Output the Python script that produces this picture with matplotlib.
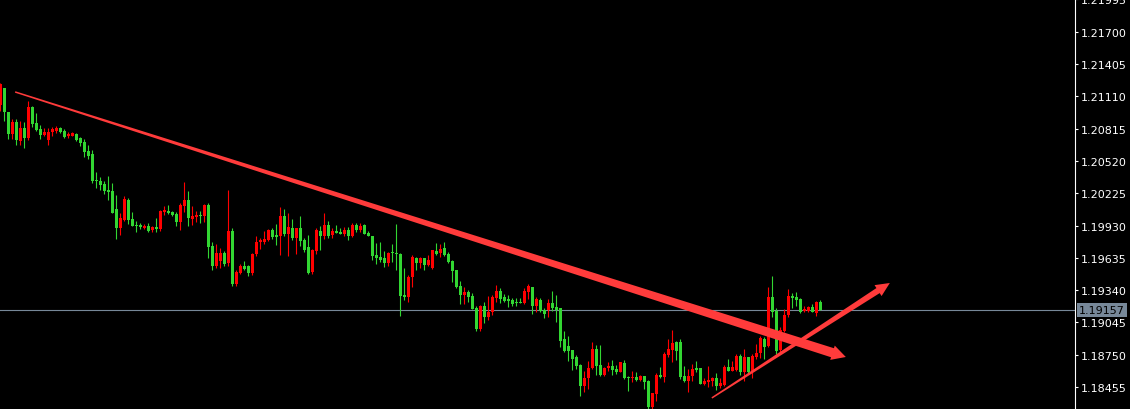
import numpy as np
import matplotlib
matplotlib.use("Agg")
import matplotlib.pyplot as plt
from matplotlib.patches import Polygon
from matplotlib.transforms import IdentityTransform

# ── OHLC (oldest bar first) ──────────────────────────────────────────────
opens = [
    1.21031, 1.21186, 1.20964, 1.20766, 1.20873, 1.20705, 1.20821, 1.20730, 1.21015, 1.20866,
    1.20812, 1.20757, 1.20714, 1.20782, 1.20796, 1.20821, 1.20796, 1.20745, 1.20751, 1.20766,
    1.20727, 1.20693, 1.20614, 1.20583, 1.20349, 1.20334, 1.20309, 1.20255, 1.20246, 1.20081,
    1.19908, 1.19983, 1.20163, 1.19990, 1.19938, 1.19935, 1.19908, 1.19923, 1.19889, 1.19917,
    1.19898, 1.20051, 1.20063, 1.20056, 1.20035, 1.19965, 1.20111, 1.20163, 1.19990, 1.20005,
    1.20026, 1.20020, 1.20118, 1.19740, 1.19558, 1.19609, 1.19679, 1.19588, 1.19883, 1.19396,
    1.19497, 1.19563, 1.19558, 1.19497, 1.19670, 1.19777, 1.19777, 1.19798, 1.19892, 1.19841,
    1.19832, 1.20014, 1.19853, 1.19905, 1.19814, 1.19905, 1.19798, 1.19731, 1.19506, 1.19700,
    1.19883, 1.19832, 1.19935, 1.19844, 1.19880, 1.19874, 1.19853, 1.19889, 1.19837, 1.19935,
    1.19889, 1.19935, 1.19862, 1.19832, 1.19661, 1.19640, 1.19631, 1.19588, 1.19691, 1.19679,
    1.19670, 1.19296, 1.19275, 1.19457, 1.19634, 1.19588, 1.19634, 1.19570, 1.19542, 1.19700,
    1.19677, 1.19725, 1.19670, 1.19609, 1.19524, 1.19381, 1.19296, 1.19320, 1.19289, 1.19177,
    1.18985, 1.19198, 1.19092, 1.19138, 1.19266, 1.19335, 1.19275, 1.19259, 1.19250, 1.19229,
    1.19229, 1.19223, 1.19320, 1.19371, 1.19192, 1.19250, 1.19159, 1.19159, 1.19223, 1.19183,
    1.19174, 1.18894, 1.18833, 1.18796, 1.18732, 1.18656, 1.18467, 1.18535, 1.18626, 1.18802,
    1.18656, 1.18565, 1.18626, 1.18644, 1.18620, 1.18595, 1.18675, 1.18550, 1.18535, 1.18544,
    1.18522, 1.18553, 1.18513, 1.18270, 1.18392, 1.18568, 1.18550, 1.18748, 1.18796, 1.18869,
    1.18867, 1.18559, 1.18513, 1.18559, 1.18626, 1.18626, 1.18483, 1.18499, 1.18513, 1.18538,
    1.18462, 1.18474, 1.18641, 1.18604, 1.18613, 1.18739, 1.18595, 1.18727, 1.18590, 1.18727,
    1.18766, 1.18894, 1.18833, 1.19280, 1.19152, 1.18793, 1.18970, 1.19113, 1.19289, 1.19280,
    1.19259, 1.19152, 1.19152, 1.19183, 1.19131, 1.19229,
]
highs = [
    1.21232, 1.21186, 1.20964, 1.20903, 1.20903, 1.20885, 1.20876, 1.21067, 1.21025, 1.20958,
    1.20848, 1.20821, 1.20818, 1.20833, 1.20842, 1.20833, 1.20812, 1.20782, 1.20787, 1.20778,
    1.20736, 1.20718, 1.20666, 1.20620, 1.20416, 1.20373, 1.20337, 1.20383, 1.20319, 1.20209,
    1.20045, 1.20197, 1.20179, 1.20051, 1.19974, 1.19953, 1.19944, 1.19953, 1.19929, 1.19999,
    1.20075, 1.20106, 1.20118, 1.20066, 1.20056, 1.20139, 1.20325, 1.20246, 1.20106, 1.20066,
    1.20066, 1.20127, 1.20133, 1.19777, 1.19761, 1.19725, 1.19700, 1.20255, 1.19908, 1.19527,
    1.19579, 1.19606, 1.19570, 1.19682, 1.19832, 1.19814, 1.19880, 1.19898, 1.19905, 1.19944,
    1.20097, 1.20081, 1.20045, 1.19990, 1.19905, 1.20014, 1.19816, 1.19844, 1.19716, 1.19908,
    1.19923, 1.20045, 1.19969, 1.19908, 1.19935, 1.19905, 1.19919, 1.19914, 1.19953, 1.19953,
    1.19951, 1.19944, 1.19877, 1.19832, 1.19771, 1.19777, 1.19695, 1.19691, 1.19761, 1.19944,
    1.19677, 1.19542, 1.19481, 1.19661, 1.19645, 1.19645, 1.19634, 1.19661, 1.19707, 1.19771,
    1.19761, 1.19777, 1.19686, 1.19618, 1.19524, 1.19426, 1.19366, 1.19344, 1.19314, 1.19198,
    1.19204, 1.19234, 1.19289, 1.19296, 1.19387, 1.19357, 1.19305, 1.19296, 1.19266, 1.19266,
    1.19266, 1.19357, 1.19396, 1.19371, 1.19275, 1.19266, 1.19174, 1.19259, 1.19329, 1.19296,
    1.19174, 1.18970, 1.18918, 1.18796, 1.18748, 1.18665, 1.18599, 1.18690, 1.18864, 1.18839,
    1.18839, 1.18641, 1.18681, 1.18705, 1.18656, 1.18686, 1.18702, 1.18559, 1.18604, 1.18590,
    1.18568, 1.18559, 1.18522, 1.18401, 1.18581, 1.18641, 1.18778, 1.18894, 1.18976, 1.18878,
    1.18894, 1.18650, 1.18620, 1.18665, 1.18696, 1.18626, 1.18538, 1.18650, 1.18544, 1.18581,
    1.18535, 1.18656, 1.18711, 1.18696, 1.18757, 1.18757, 1.18802, 1.18732, 1.18757, 1.18848,
    1.18918, 1.18909, 1.19366, 1.19472, 1.19174, 1.19001, 1.19168, 1.19350, 1.19311, 1.19320,
    1.19266, 1.19198, 1.19198, 1.19213, 1.19244, 1.19250,
]
lows = [
    1.20976, 1.20888, 1.20720, 1.20720, 1.20668, 1.20668, 1.20638, 1.20711, 1.20827, 1.20791,
    1.20720, 1.20745, 1.20668, 1.20751, 1.20775, 1.20772, 1.20727, 1.20730, 1.20745, 1.20699,
    1.20659, 1.20559, 1.20538, 1.20319, 1.20273, 1.20255, 1.20218, 1.20166, 1.20040, 1.19807,
    1.19846, 1.19969, 1.19944, 1.19925, 1.19874, 1.19898, 1.19898, 1.19874, 1.19874, 1.19874,
    1.19883, 1.20026, 1.20035, 1.20020, 1.19923, 1.19889, 1.20051, 1.19929, 1.19935, 1.19960,
    1.19951, 1.19960, 1.19634, 1.19527, 1.19540, 1.19542, 1.19563, 1.19563, 1.19375, 1.19381,
    1.19487, 1.19527, 1.19472, 1.19478, 1.19649, 1.19716, 1.19761, 1.19789, 1.19807, 1.19755,
    1.19664, 1.19837, 1.19649, 1.19798, 1.19670, 1.19746, 1.19686, 1.19490, 1.19487, 1.19670,
    1.19707, 1.19807, 1.19816, 1.19816, 1.19862, 1.19853, 1.19837, 1.19801, 1.19823, 1.19868,
    1.19868, 1.19853, 1.19832, 1.19615, 1.19579, 1.19594, 1.19549, 1.19563, 1.19600, 1.19524,
    1.19107, 1.19253, 1.19229, 1.19366, 1.19527, 1.19540, 1.19527, 1.19558, 1.19533, 1.19661,
    1.19640, 1.19655, 1.19588, 1.19412, 1.19360, 1.19213, 1.19213, 1.19229, 1.19168, 1.18970,
    1.18970, 1.19037, 1.19067, 1.19113, 1.19229, 1.19223, 1.19229, 1.19189, 1.19198, 1.19198,
    1.19220, 1.19213, 1.19259, 1.19122, 1.19143, 1.19138, 1.19083, 1.19097, 1.19152, 1.19046,
    1.18824, 1.18778, 1.18696, 1.18613, 1.18620, 1.18376, 1.18407, 1.18437, 1.18620, 1.18565,
    1.18559, 1.18559, 1.18604, 1.18565, 1.18574, 1.18590, 1.18528, 1.18422, 1.18505, 1.18513,
    1.18513, 1.18437, 1.18240, 1.18240, 1.18330, 1.18535, 1.18505, 1.18727, 1.18686, 1.18702,
    1.18528, 1.18505, 1.18413, 1.18513, 1.18595, 1.18483, 1.18474, 1.18458, 1.18467, 1.18431,
    1.18444, 1.18467, 1.18599, 1.18599, 1.18604, 1.18568, 1.18513, 1.18574, 1.18535, 1.18711,
    1.18720, 1.18711, 1.18818, 1.19092, 1.18757, 1.18772, 1.18955, 1.19092, 1.19174, 1.19198,
    1.19131, 1.19138, 1.19138, 1.19138, 1.19107, 1.19157,
]
closes = [
    1.21223, 1.20964, 1.20766, 1.20878, 1.20711, 1.20821, 1.20730, 1.21015, 1.20857, 1.20803,
    1.20757, 1.20782, 1.20787, 1.20812, 1.20821, 1.20782, 1.20741, 1.20766, 1.20772, 1.20711,
    1.20687, 1.20604, 1.20562, 1.20340, 1.20340, 1.20300, 1.20248, 1.20234, 1.20045, 1.19908,
    1.19996, 1.20172, 1.19983, 1.19929, 1.19929, 1.19917, 1.19929, 1.19883, 1.19917, 1.19898,
    1.20063, 1.20069, 1.20045, 1.20026, 1.19965, 1.20118, 1.20163, 1.19996, 1.20020, 1.20029,
    1.20017, 1.20118, 1.19737, 1.19563, 1.19679, 1.19679, 1.19579, 1.19883, 1.19396, 1.19503,
    1.19563, 1.19533, 1.19497, 1.19670, 1.19782, 1.19798, 1.19807, 1.19889, 1.19828, 1.19828,
    1.20014, 1.19853, 1.19914, 1.19816, 1.19905, 1.19792, 1.19709, 1.19497, 1.19707, 1.19889,
    1.19832, 1.19935, 1.19832, 1.19883, 1.19862, 1.19853, 1.19889, 1.19837, 1.19935, 1.19889,
    1.19929, 1.19853, 1.19832, 1.19655, 1.19634, 1.19618, 1.19588, 1.19679, 1.19677, 1.19670,
    1.19289, 1.19275, 1.19463, 1.19640, 1.19585, 1.19634, 1.19570, 1.19615, 1.19707, 1.19670,
    1.19716, 1.19664, 1.19594, 1.19512, 1.19371, 1.19298, 1.19320, 1.19275, 1.19168, 1.18985,
    1.19198, 1.19092, 1.19138, 1.19275, 1.19335, 1.19259, 1.19244, 1.19244, 1.19213, 1.19220,
    1.19220, 1.19335, 1.19375, 1.19198, 1.19259, 1.19152, 1.19122, 1.19223, 1.19174, 1.19161,
    1.18878, 1.18787, 1.18787, 1.18711, 1.18644, 1.18467, 1.18538, 1.18626, 1.18802, 1.18650,
    1.18565, 1.18629, 1.18644, 1.18613, 1.18595, 1.18681, 1.18538, 1.18535, 1.18550, 1.18522,
    1.18559, 1.18505, 1.18270, 1.18398, 1.18565, 1.18544, 1.18757, 1.18802, 1.18857, 1.18787,
    1.18547, 1.18513, 1.18559, 1.18620, 1.18613, 1.18483, 1.18513, 1.18522, 1.18538, 1.18467,
    1.18492, 1.18641, 1.18604, 1.18641, 1.18741, 1.18595, 1.18727, 1.18590, 1.18741, 1.18766,
    1.18903, 1.18824, 1.19280, 1.19138, 1.18787, 1.18976, 1.19113, 1.19289, 1.19268, 1.19250,
    1.19138, 1.19168, 1.19189, 1.19138, 1.19234, 1.19157,
]

price_ticks = [1.18455, 1.18750, 1.19045, 1.19340, 1.19635, 1.19930,
               1.20225, 1.20520, 1.20815, 1.21110, 1.21405, 1.21700, 1.21995]
last_price = 1.19157

# hand-drawn arrows: (bar index, price) start -> tip
down_arrow = [(3.7, 1.21150), (211.4, 1.18729)]
up_arrow = [(177.9, 1.18355), (222.4, 1.19405)]

BG = "#000000"
UP_COL = "#ff0000"
DN_COL = "#32d632"
ARROW_COL = "#ff3b3b"
BID_COL = "#778899"
FONT = ["Liberation Sans Narrow", "DejaVu Sans"]

o = np.array(opens); h = np.array(highs); l = np.array(lows); c = np.array(closes)
idx = np.arange(len(o))
cols = np.where(c > o, UP_COL, DN_COL)

fig = plt.figure(figsize=(11.3, 4.1), dpi=100, facecolor=BG)
ax = fig.add_axes([0, 0, 1075 / 1130, 1])
ax.set_facecolor(BG)
ax.set_xlim(-0.08, 268.7)
ax.set_ylim(1.18254, 1.21999)

# wicks + bodies
ax.vlines(idx, l, h, colors=cols, linewidth=0.8, zorder=2)
body_lo = np.minimum(o, c)
body_h = np.maximum(np.abs(c - o), 0.00009)
ax.bar(idx, body_h, bottom=body_lo, width=0.8, color=cols,
       linewidth=0, antialiased=False, zorder=3)

# bid line
ax.axhline(last_price, color=BID_COL, linewidth=0.8, zorder=1)

# axis styling (MT4 look)
for s in ["left", "top", "bottom"]:
    ax.spines[s].set_visible(False)
ax.spines["right"].set_color("white")
ax.spines["right"].set_linewidth(0.8)
ax.set_xticks([])
ax.yaxis.tick_right()
ax.set_yticks(price_ticks)
ax.set_yticklabels([f"{p:.5f}" for p in price_ticks])
ax.tick_params(axis="y", colors="white", length=2.5, width=0.8, pad=1.5,
               labelsize=8)
for t in ax.get_yticklabels():
    t.set_family(FONT)

ax.annotate(f"{last_price:.5f}", xy=(1, last_price),
            xycoords=("axes fraction", "data"), xytext=(4, 0),
            textcoords="offset pixels", va="center", ha="left",
            fontsize=8, family=FONT, color="#000000", zorder=10,
            bbox=dict(boxstyle="square,pad=0.15", fc=BID_COL, ec="none"),
            annotation_clip=False)


def tapered_arrow(start, end, w0, w1, head_len, head_w):
    # build the arrow in pixel space so widths stay in pixels
    p0 = ax.transData.transform(start)
    p1 = ax.transData.transform(end)
    d = p1 - p0
    u = d / np.hypot(*d)
    n = np.array([-u[1], u[0]])
    base = p1 - u * head_len
    pts = [p0 + n * w0 / 2, base + n * w1 / 2, base + n * head_w / 2, p1,
           base - n * head_w / 2, base - n * w1 / 2, p0 - n * w0 / 2]
    poly = Polygon(pts, closed=True, transform=IdentityTransform(),
                   facecolor=ARROW_COL, edgecolor="none", zorder=6)
    fig.patches.append(poly)


tapered_arrow(*down_arrow, w0=1.5, w1=9.5, head_len=14, head_w=15)
tapered_arrow(*up_arrow, w0=1.5, w1=6, head_len=14, head_w=13)

fig.savefig("out.png", dpi=100, facecolor=BG)
